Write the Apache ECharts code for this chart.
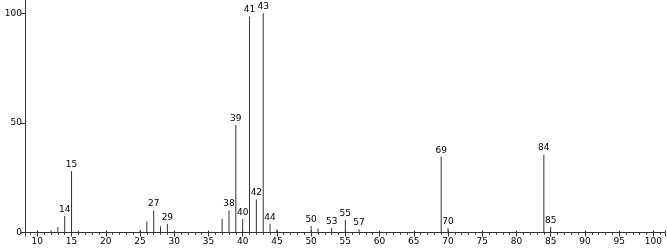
<!DOCTYPE html>
<html><head><meta charset="utf-8">
<script src="https://cdn.jsdelivr.net/npm/echarts@6/dist/echarts.min.js"></script>
<style>html,body{margin:0;padding:0;background:#fff}#c{width:667px;height:249px}</style>
</head><body><div id="c"></div>
<script>
const mz = [12,13,14,15,16,25,26,27,28,29,37,38,39,40,41,42,43,44,45,50,51,53,55,57,69,70,84,85];
const intensity = [1,2.4,7.5,28,0.8,1,5,10,2.8,4,6.3,10,49,6.2,98.5,15,100,4,1.5,3,1.8,2,5.8,1.5,34.5,2,35.5,2.5];
const labeledPeaks = [14,15,27,29,38,39,40,41,42,43,44,50,53,55,57,69,70,84,85];
const xRange = [8.2, 101.7];
const yRange = [0, 106];

const data = mz.map((m, i) => ({
  value: [m, intensity[i]],
  label: { show: labeledPeaks.includes(m) }
}));
const font = { fontFamily: 'DejaVu Sans', fontSize: 9, color: '#000' };
const chart = echarts.init(document.getElementById('c'), null, { renderer: 'canvas' });
const xBase = {
  type: 'value', min: xRange[0], max: xRange[1], minInterval: 5, maxInterval: 5, splitNumber: 18,
  splitLine: { show: false }
};
chart.setOption({
  animation: false,
  grid: { left: 25, right: 2, top: 0, bottom: 16.5, containLabel: false },
  xAxis: [
    Object.assign({}, xBase, {
      axisLine: { lineStyle: { color: '#333', width: 1 } },
      axisTick: { show: true, length: 4, lineStyle: { color: '#333' } },
      minorTick: { show: true, splitNumber: 5, length: 2, lineStyle: { color: '#333' } },
      axisLabel: Object.assign({ margin: 5, showMinLabel: false, showMaxLabel: false }, font)
    }),
    Object.assign({}, xBase, {
      position: 'bottom', offset: 0,
      axisLine: { show: false },
      axisTick: { show: true, inside: true, length: 2, lineStyle: { color: '#333' } },
      minorTick: { show: true, splitNumber: 5, length: -2, lineStyle: { color: '#333' } },
      axisLabel: { show: false }
    })
  ],
  yAxis: {
    type: 'value', min: yRange[0], max: yRange[1], minInterval: 50, maxInterval: 50,
    splitLine: { show: false },
    axisLine: { show: true, lineStyle: { color: '#333', width: 1 } },
    axisTick: { show: true, length: 4, lineStyle: { color: '#333' } },
    axisLabel: Object.assign({ margin: 3, showMaxLabel: false }, font)
  },
  series: [{
    type: 'bar', xAxisIndex: 0, barWidth: 1,
    itemStyle: { color: '#333' },
    label: Object.assign({ position: 'top', distance: 2, formatter: p => String(p.value[0]) }, font),
    data: data
  }]
});
</script></body></html>
